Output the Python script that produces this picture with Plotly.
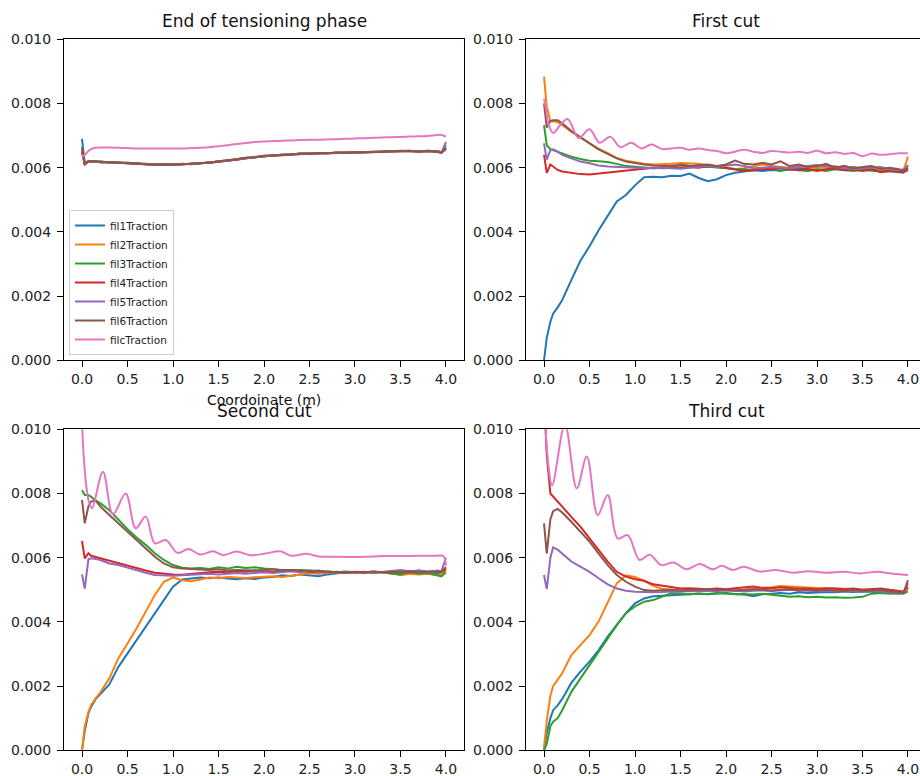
import plotly.graph_objects as go
from plotly.subplots import make_subplots

MILLI = 1e-3  # all series below are written in units of 0.001

# common coordinate grid (m)
X = [0, 0.03, 0.07, 0.1, 0.15, 0.2, 0.3, 0.4, 0.5, 0.6, 0.7, 0.8, 0.9, 1.0, 1.1, 1.2, 1.3, 1.4, 1.5,
     1.6, 1.7, 1.8, 1.9, 2.0, 2.1, 2.2, 2.3, 2.4, 2.5, 2.6, 2.7, 2.8, 2.9, 3.0, 3.1, 3.2, 3.3, 3.4,
     3.5, 3.6, 3.7, 3.8, 3.9, 3.95, 4.0]

# ---- End of tensioning phase ----
P1_FIL1 = [6.9, 6.14, 6.19, 6.21, 6.18, 6.19, 6.16, 6.17, 6.14, 6.13, 6.12, 6.1, 6.11, 6.09, 6.11, 6.13, 6.13, 6.17, 6.18, 6.23, 6.25, 6.31, 6.32, 6.37, 6.37, 6.41, 6.41, 6.44, 6.43, 6.46, 6.44, 6.47, 6.46, 6.48, 6.47, 6.5, 6.49, 6.52, 6.51, 6.53, 6.5, 6.53, 6.5, 6.47, 6.6]
P1_FIL2 = [6.55, 6.11, 6.21, 6.19, 6.2, 6.17, 6.18, 6.15, 6.16, 6.12, 6.12, 6.09, 6.11, 6.1, 6.1, 6.12, 6.15, 6.15, 6.2, 6.21, 6.27, 6.29, 6.34, 6.35, 6.39, 6.39, 6.43, 6.42, 6.45, 6.44, 6.46, 6.45, 6.48, 6.46, 6.49, 6.48, 6.51, 6.5, 6.53, 6.51, 6.52, 6.51, 6.52, 6.49, 6.62]
P1_FIL3 = [6.6, 6.13, 6.2, 6.2, 6.18, 6.19, 6.17, 6.16, 6.15, 6.14, 6.1, 6.11, 6.09, 6.11, 6.1, 6.13, 6.13, 6.16, 6.2, 6.21, 6.26, 6.3, 6.33, 6.36, 6.38, 6.4, 6.41, 6.44, 6.44, 6.45, 6.46, 6.45, 6.47, 6.48, 6.48, 6.49, 6.5, 6.51, 6.52, 6.52, 6.51, 6.52, 6.5, 6.47, 6.7]
P1_FIL4 = [6.5, 6.1, 6.19, 6.21, 6.19, 6.17, 6.17, 6.15, 6.15, 6.13, 6.11, 6.1, 6.1, 6.09, 6.12, 6.11, 6.14, 6.16, 6.19, 6.22, 6.25, 6.3, 6.33, 6.36, 6.38, 6.4, 6.42, 6.43, 6.44, 6.45, 6.45, 6.46, 6.47, 6.47, 6.48, 6.49, 6.5, 6.51, 6.52, 6.52, 6.51, 6.52, 6.51, 6.48, 6.58]
P1_FIL5 = [6.45, 6.12, 6.2, 6.2, 6.19, 6.18, 6.16, 6.16, 6.14, 6.13, 6.11, 6.1, 6.1, 6.1, 6.11, 6.12, 6.14, 6.16, 6.19, 6.22, 6.26, 6.3, 6.33, 6.36, 6.38, 6.4, 6.42, 6.43, 6.44, 6.45, 6.45, 6.46, 6.47, 6.47, 6.48, 6.49, 6.5, 6.51, 6.52, 6.52, 6.51, 6.52, 6.51, 6.48, 6.8]
P1_FIL6 = [6.65, 6.12, 6.21, 6.19, 6.2, 6.17, 6.18, 6.15, 6.15, 6.12, 6.11, 6.09, 6.11, 6.1, 6.1, 6.12, 6.15, 6.15, 6.2, 6.22, 6.26, 6.31, 6.32, 6.37, 6.38, 6.41, 6.41, 6.44, 6.43, 6.46, 6.45, 6.47, 6.46, 6.48, 6.48, 6.5, 6.49, 6.52, 6.52, 6.53, 6.5, 6.53, 6.51, 6.46, 6.62]
X_P1C = X
P1_FILC = [6.35, 6.4, 6.52, 6.58, 6.62, 6.63, 6.63, 6.62, 6.61, 6.6, 6.6, 6.6, 6.6, 6.6, 6.6, 6.61, 6.62, 6.64, 6.67, 6.7, 6.74, 6.77, 6.8, 6.82, 6.83, 6.84, 6.85, 6.86, 6.87, 6.87, 6.88, 6.89, 6.9, 6.91, 6.92, 6.93, 6.94, 6.95, 6.96, 6.97, 6.98, 6.99, 7.02, 7.02, 6.97]

# ---- First cut ----
P2_FIL1 = [0.0, 0.7, 1.2, 1.45, 1.65, 1.88, 2.5, 3.1, 3.55, 4.05, 4.5, 4.95, 5.15, 5.45, 5.7, 5.72, 5.7, 5.75, 5.74, 5.82, 5.68, 5.58, 5.64, 5.77, 5.84, 5.87, 5.92, 5.9, 5.93, 5.92, 5.95, 5.97, 5.98, 6.0, 6.02, 6.0, 5.98, 6.02, 5.96, 5.98, 5.95, 5.9, 5.86, 5.85, 6.08]
P2_FIL2 = [8.84, 7.9, 7.45, 7.45, 7.42, 7.33, 7.12, 6.95, 6.76, 6.59, 6.45, 6.3, 6.22, 6.16, 6.12, 6.1, 6.1, 6.12, 6.15, 6.14, 6.12, 6.08, 6.04, 6.0, 5.96, 5.98, 6.05, 6.1, 6.05, 6.02, 6.0, 6.05, 6.0, 5.98, 6.02, 6.05, 5.98, 6.0, 5.96, 6.0, 5.95, 5.92, 5.9, 5.9, 6.35]
P2_FIL3 = [7.33, 6.7, 6.58, 6.55, 6.5, 6.43, 6.34, 6.27, 6.22, 6.2, 6.18, 6.12, 6.05, 6.03, 6.0, 5.98, 6.0, 6.02, 6.1, 6.05, 6.02, 6.03, 6.0, 5.98, 5.96, 5.95, 5.92, 5.97, 5.95, 5.9, 5.95, 5.92, 5.9, 5.94, 5.9, 5.95, 5.92, 5.9, 5.93, 5.9, 5.88, 5.9, 5.87, 5.88, 5.92]
P2_FIL4 = [6.4, 5.84, 6.1, 6.03, 5.93, 5.88, 5.84, 5.8, 5.79, 5.82, 5.86, 5.9, 5.93, 5.96, 5.98, 6.0, 5.98, 5.99, 6.0, 6.02, 6.0, 6.05, 6.02, 6.0, 5.94, 5.9, 5.92, 5.96, 5.95, 6.0, 5.95, 5.92, 5.96, 5.9, 5.95, 5.98, 5.92, 5.95, 5.9, 5.96, 5.86, 5.9, 5.88, 5.85, 5.95]
P2_FIL5 = [6.76, 6.25, 6.55, 6.57, 6.5, 6.4, 6.29, 6.19, 6.14, 6.07, 6.04, 6.02, 6.0, 6.0, 5.99, 5.98, 6.0, 5.98, 5.97, 6.0, 6.03, 6.05, 6.02, 6.05, 6.1, 6.05, 5.98, 6.0, 6.02, 6.0, 5.98, 6.02, 6.05, 6.08, 6.05, 6.02, 6.0, 5.96, 5.98, 6.0, 6.02, 5.95, 5.92, 5.95, 6.05]
P2_FIL6 = [8.0, 7.25, 7.45, 7.48, 7.48, 7.38, 7.14, 6.95, 6.76, 6.57, 6.43, 6.29, 6.19, 6.14, 6.1, 6.07, 6.05, 6.06, 6.08, 6.05, 6.08, 6.1, 6.05, 6.1, 6.22, 6.12, 6.1, 6.15, 6.1, 6.2, 6.05, 6.1, 6.02, 6.05, 6.12, 6.0, 6.06, 5.98, 6.02, 6.05, 5.96, 6.0, 5.95, 5.9, 6.0]
X_P2C = [0, 0.02, 0.05, 0.1, 0.17, 0.26, 0.38, 0.5, 0.61, 0.73, 0.84, 0.96, 1.07, 1.18, 1.3, 1.4, 1.5, 1.6, 1.7, 1.8, 1.9, 2.0, 2.1, 2.2, 2.3, 2.4, 2.5, 2.6, 2.7, 2.8, 2.9, 3.0, 3.1, 3.2, 3.3, 3.4, 3.5, 3.6, 3.7, 3.8, 3.9, 4.0]
P2_FILC = [8.15, 7.85, 7.35, 7.08, 7.3, 7.52, 6.92, 7.2, 6.78, 6.96, 6.64, 6.78, 6.6, 6.72, 6.58, 6.6, 6.62, 6.56, 6.6, 6.55, 6.52, 6.45, 6.5, 6.56, 6.5, 6.46, 6.52, 6.5, 6.47, 6.5, 6.46, 6.53, 6.45, 6.48, 6.43, 6.46, 6.36, 6.44, 6.4, 6.42, 6.45, 6.45]

# ---- Second cut ----
P3_FIL1 = [0.0, 0.6, 1.15, 1.35, 1.6, 1.75, 2.05, 2.6, 3.02, 3.43, 3.85, 4.3, 4.72, 5.1, 5.32, 5.36, 5.38, 5.36, 5.38, 5.35, 5.33, 5.36, 5.34, 5.38, 5.4, 5.45, 5.43, 5.48, 5.45, 5.42, 5.48, 5.52, 5.55, 5.55, 5.54, 5.56, 5.55, 5.57, 5.5, 5.52, 5.55, 5.52, 5.5, 5.55, 5.7]
P3_FIL2 = [0.0, 0.75, 1.2, 1.41, 1.62, 1.8, 2.24, 2.87, 3.33, 3.8, 4.32, 4.84, 5.25, 5.38, 5.3, 5.27, 5.32, 5.38, 5.36, 5.4, 5.38, 5.37, 5.39, 5.4, 5.42, 5.4, 5.45, 5.48, 5.52, 5.5, 5.53, 5.55, 5.54, 5.55, 5.56, 5.55, 5.54, 5.52, 5.45, 5.5, 5.48, 5.5, 5.45, 5.48, 5.6]
P3_FIL3 = [8.1, 7.95, 7.95, 7.9, 7.78, 7.7, 7.48, 7.17, 6.89, 6.63, 6.4, 6.14, 5.93, 5.77, 5.69, 5.66, 5.68, 5.65, 5.7, 5.66, 5.72, 5.68, 5.7, 5.66, 5.65, 5.62, 5.6, 5.62, 5.6, 5.58, 5.56, 5.55, 5.57, 5.55, 5.56, 5.54, 5.55, 5.5, 5.48, 5.55, 5.5, 5.52, 5.45, 5.42, 5.55]
P3_FIL4 = [6.52, 5.98, 6.14, 6.06, 6.02, 5.98, 5.9, 5.82, 5.75, 5.67, 5.6, 5.53, 5.5, 5.48, 5.47, 5.5, 5.52, 5.55, 5.56, 5.55, 5.58, 5.56, 5.6, 5.58, 5.56, 5.6, 5.62, 5.58, 5.56, 5.55, 5.57, 5.55, 5.52, 5.55, 5.53, 5.56, 5.55, 5.54, 5.58, 5.55, 5.6, 5.56, 5.58, 5.55, 5.65]
P3_FIL5 = [5.48, 5.04, 5.95, 5.98, 5.96, 5.93, 5.82, 5.77, 5.69, 5.6, 5.53, 5.46, 5.44, 5.44, 5.45, 5.46, 5.48, 5.5, 5.48, 5.5, 5.52, 5.5, 5.52, 5.55, 5.52, 5.56, 5.58, 5.55, 5.6, 5.55, 5.56, 5.54, 5.55, 5.56, 5.55, 5.52, 5.56, 5.58, 5.62, 5.58, 5.6, 5.55, 5.6, 5.58, 6.0]
P3_FIL6 = [7.8, 7.07, 7.6, 7.75, 7.78, 7.6, 7.33, 7.07, 6.81, 6.55, 6.29, 6.03, 5.82, 5.7, 5.66, 5.64, 5.63, 5.62, 5.64, 5.6, 5.62, 5.6, 5.6, 5.62, 5.64, 5.6, 5.62, 5.6, 5.58, 5.6, 5.55, 5.56, 5.54, 5.56, 5.55, 5.57, 5.55, 5.56, 5.55, 5.58, 5.55, 5.57, 5.56, 5.58, 5.7]
X_P3C = [0, 0.02, 0.05, 0.08, 0.11, 0.23, 0.34, 0.48, 0.59, 0.7, 0.8, 0.92, 1.05, 1.17, 1.3, 1.44, 1.55, 1.7, 1.85, 2.0, 2.18, 2.3, 2.47, 2.6, 2.76, 3.0, 3.13, 3.3, 3.5, 3.7, 3.9, 3.97, 4.0]
P3_FILC = [10.2, 9.1, 8.16, 7.7, 7.54, 8.68, 7.35, 8.0, 6.92, 7.28, 6.45, 6.55, 6.15, 6.27, 6.1, 6.2, 6.08, 6.19, 6.08, 6.12, 6.2, 6.06, 6.12, 6.04, 6.03, 6.02, 6.03, 6.05, 6.05, 6.06, 6.06, 6.05, 5.75]

# ---- Third cut ----
P4_FIL1 = [0.0, 0.55, 1.0, 1.25, 1.4, 1.6, 2.1, 2.45, 2.76, 3.12, 3.54, 3.9, 4.27, 4.58, 4.73, 4.8, 4.82, 4.84, 4.86, 4.87, 4.88, 4.86, 4.89, 4.9, 4.87, 4.85, 4.8, 4.86, 4.88, 4.9, 4.88, 4.92, 4.9, 4.92, 4.93, 4.92, 4.95, 4.93, 4.95, 4.94, 4.92, 4.9, 4.88, 4.9, 5.05]
P4_FIL2 = [0.1, 0.9, 1.7, 2.0, 2.2, 2.4, 2.97, 3.28, 3.59, 4.01, 4.58, 5.2, 5.45, 5.4, 5.28, 5.12, 5.03, 5.0, 4.98, 5.0, 4.98, 5.0, 4.98, 5.0, 4.98, 5.0, 5.02, 5.05, 5.08, 5.12, 5.1, 5.08, 5.06, 5.05, 5.04, 5.05, 5.03, 5.02, 5.0, 5.02, 5.0, 4.98, 4.95, 4.92, 5.05]
P4_FIL3 = [0.0, 0.2, 0.75, 0.89, 1.0, 1.25, 1.82, 2.24, 2.66, 3.07, 3.49, 3.9, 4.27, 4.48, 4.63, 4.68, 4.79, 4.89, 4.88, 4.86, 4.88, 4.87, 4.9, 4.88, 4.86, 4.87, 4.85, 4.88, 4.85, 4.8, 4.78, 4.8, 4.77, 4.78, 4.76, 4.77, 4.75, 4.76, 4.78, 4.88, 4.9, 4.88, 4.9, 4.88, 4.95]
P4_FIL4 = [11.0, 9.2, 8.0, 7.9, 7.75, 7.59, 7.27, 6.97, 6.6, 6.24, 5.88, 5.56, 5.41, 5.33, 5.28, 5.17, 5.13, 5.07, 5.04, 5.05, 5.03, 5.02, 5.04, 5.02, 5.05, 5.08, 5.1, 5.06, 5.05, 5.08, 5.05, 5.03, 5.04, 5.02, 5.05, 5.03, 5.02, 5.04, 5.0, 5.02, 5.04, 5.0, 4.96, 4.95, 5.1]
P4_FIL5 = [5.46, 5.02, 6.0, 6.32, 6.25, 6.13, 5.88, 5.72, 5.56, 5.36, 5.17, 5.04, 4.97, 4.94, 4.92, 4.92, 4.93, 4.95, 4.94, 4.96, 4.95, 4.97, 4.96, 4.98, 4.97, 4.95, 4.97, 4.98, 4.96, 4.98, 5.0, 4.98, 4.97, 4.96, 4.98, 4.95, 4.97, 4.96, 4.95, 4.97, 4.95, 4.93, 4.9, 4.92, 5.2]
P4_FIL6 = [7.07, 6.13, 7.2, 7.45, 7.52, 7.41, 7.12, 6.81, 6.5, 6.13, 5.77, 5.46, 5.25, 5.1, 4.99, 4.97, 4.98, 5.0, 4.98, 4.99, 5.0, 5.02, 4.99, 5.0, 4.98, 5.0, 5.02, 5.0, 4.98, 5.0, 5.02, 4.98, 5.0, 4.97, 5.0, 4.98, 4.96, 5.0, 4.96, 4.98, 5.0, 4.95, 4.92, 4.9, 5.3]
X_P4C = [0, 0.04, 0.09, 0.23, 0.36, 0.47, 0.59, 0.7, 0.81, 0.92, 1.05, 1.16, 1.29, 1.42, 1.57, 1.71, 1.86, 1.95, 2.08, 2.19, 2.37, 2.55, 2.74, 2.9, 3.1, 3.3, 3.47, 3.66, 3.84, 4.0]
P4_FILC = [11.5, 9.1, 8.26, 10.15, 8.16, 9.15, 7.33, 7.95, 6.6, 6.7, 5.93, 6.09, 5.77, 5.85, 5.64, 5.8, 5.64, 5.75, 5.62, 5.72, 5.57, 5.62, 5.53, 5.58, 5.53, 5.56, 5.51, 5.56, 5.5, 5.46]

NAMES = ["fil1Traction", "fil2Traction", "fil3Traction", "fil4Traction",
         "fil5Traction", "fil6Traction", "filcTraction"]
COLORS = ["#1f77b4", "#ff7f0e", "#2ca02c", "#d62728", "#9467bd", "#8c564b", "#e377c2"]
TITLES = ["End of tensioning phase", "First cut", "Second cut", "Third cut"]
XLABEL = "Coordoinate (m)"
Y_TICKS = [0.0, 0.002, 0.004, 0.006, 0.008, 0.010]
X_TICKS = [0.0, 0.5, 1.0, 1.5, 2.0, 2.5, 3.0, 3.5, 4.0]

PANELS = [
    (1, 1, [P1_FIL1, P1_FIL2, P1_FIL3, P1_FIL4, P1_FIL5, P1_FIL6], X_P1C, P1_FILC),
    (1, 2, [P2_FIL1, P2_FIL2, P2_FIL3, P2_FIL4, P2_FIL5, P2_FIL6], X_P2C, P2_FILC),
    (2, 1, [P3_FIL1, P3_FIL2, P3_FIL3, P3_FIL4, P3_FIL5, P3_FIL6], X_P3C, P3_FILC),
    (2, 2, [P4_FIL1, P4_FIL2, P4_FIL3, P4_FIL4, P4_FIL5, P4_FIL6], X_P4C, P4_FILC),
]

FONT = "DejaVu Sans"
W, H = 920, 776

fig = make_subplots(rows=2, cols=2)

for i, (r, c, fils, xc, filc) in enumerate(PANELS):
    for k, ys in enumerate(fils):
        fig.add_trace(go.Scatter(
            x=X, y=[v * MILLI for v in ys], mode="lines", name=NAMES[k],
            line=dict(color=COLORS[k], width=2),
            showlegend=(i == 0), legendgroup=NAMES[k]), row=r, col=c)
    fig.add_trace(go.Scatter(
        x=xc, y=[v * MILLI for v in filc], mode="lines", name=NAMES[6],
        line=dict(color=COLORS[6], width=2, shape="spline", smoothing=1.0),
        showlegend=(i == 0), legendgroup=NAMES[6]), row=r, col=c)

LEFT_DOM = [64 / W, 464 / W]
RIGHT_DOM = [526 / W, 1.0]
TOP_DOM = [1 - 360.3 / H, 1 - 39.3 / H]
BOT_DOM = [1 - 750.3 / H, 1 - 429.3 / H]

axis_common = dict(showline=True, linecolor="black", linewidth=1, ticks="outside",
                   ticklen=6, tickwidth=1, tickcolor="black", showgrid=False,
                   zeroline=False, tickfont=dict(family=FONT, size=14, color="#222"),
                   automargin=False)

for idx, (r, c) in enumerate([(1, 1), (1, 2), (2, 1), (2, 2)]):
    xd = LEFT_DOM if c == 1 else RIGHT_DOM
    yd = TOP_DOM if r == 1 else BOT_DOM
    xr = [-0.198, 4.198] if c == 1 else [-0.198, 4.132]
    fig.update_xaxes(domain=xd, range=xr, tickvals=X_TICKS, tickformat=".1f",
                     mirror=True, ticklabelstandoff=0, row=r, col=c, **axis_common)
    fig.update_yaxes(domain=yd, range=[0, 0.010], tickvals=Y_TICKS, tickformat=".3f",
                     mirror=(c == 1), ticklabelstandoff=3, row=r, col=c, **axis_common)

annotations = []
title_pos = [(264 / W, 1 - 21 / H), (726 / W, 1 - 21 / H),
             (264 / W, 1 - 410.7 / H), (726 / W, 1 - 410.7 / H)]
for t, (ax, ay) in zip(TITLES, title_pos):
    annotations.append(dict(text=t, x=ax, y=ay, xref="paper", yref="paper",
                            xanchor="center", yanchor="middle", showarrow=False,
                            font=dict(family=FONT, size=17, color="#111")))
annotations.append(dict(text=XLABEL, x=264 / W, y=1 - 400 / H, xref="paper", yref="paper",
                        xanchor="center", yanchor="middle", showarrow=False,
                        font=dict(family=FONT, size=14, color="#111")))

fig.update_layout(
    width=W, height=H, margin=dict(l=0, r=0, t=0, b=0, autoexpand=False),
    paper_bgcolor="white", plot_bgcolor="white",
    font=dict(family=FONT, color="#222"),
    annotations=annotations,
    legend=dict(x=69 / W, y=1 - 355 / H, xanchor="left", yanchor="bottom",
                bgcolor="rgba(255,255,255,0.8)", bordercolor="#cccccc", borderwidth=1,
                font=dict(family=FONT, size=10.5, color="#222"), itemwidth=30,
                tracegroupgap=0),
)

fig.write_html("out.html", config={"displayModeBar": False},
               post_script="document.body.style.margin='0px';")
